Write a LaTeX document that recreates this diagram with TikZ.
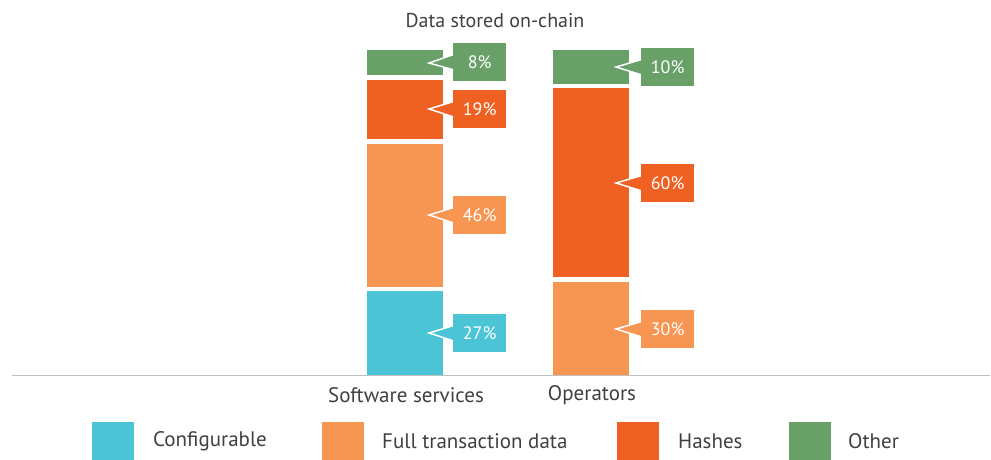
\documentclass[tikz,border=0pt]{standalone}
\usepackage{fontspec}
\setmainfont{PT Sans}
\definecolor{cyanc}{HTML}{4BC4D5}
\definecolor{orangec}{HTML}{F79552}
\definecolor{redc}{HTML}{EF6023}
\definecolor{greenc}{HTML}{68A068}
\definecolor{txt}{HTML}{404040}
\definecolor{axisc}{HTML}{BFBFBF}
\tikzset{
  lbl/.style={rectangle, inner sep=0pt, minimum width=53pt, minimum height=38pt, text=white, font=\fontsize{18}{18}\selectfont},
  cat/.style={text=txt, font=\fontsize{21}{21}\selectfont, inner sep=0pt},
  legtxt/.style={text=txt, font=\fontsize{21}{21}\selectfont, inner sep=0pt, anchor=west},
  legsq/.style={rectangle, inner sep=0pt, minimum width=42pt, minimum height=38pt, anchor=north west},
}
% \mycallout{name}{colour}{tip x}{tip y}{box left x}{box top y}{text}
\newcommand{\mycallout}[7]{%
  \node[lbl, fill=#2, anchor=north west] (#1) at (#5,#6) {#7};
  \coordinate (#1tip) at (#3,#4);
  \fill[#2] (#1tip) -- ([yshift=7.5pt]#1.west) -- ([yshift=-7.5pt]#1.west) -- cycle;
  \draw[white, line width=1.5pt, line join=miter] ([yshift=7.5pt]#1.west) -- (#1tip) -- ([yshift=-7.5pt]#1.west);
}
\begin{document}
\begin{tikzpicture}[x=1pt,y=-1pt]
\useasboundingbox (0,0) rectangle (991,460);
% title
\node[text=txt, font=\fontsize{20}{20}\selectfont, inner sep=0pt] (title) at (495,21) {Data stored on-chain};
% bars: software services
\fill[greenc]  (367,50)  rectangle (443,75);
\fill[redc]    (367,80)  rectangle (443,139);
\fill[orangec] (367,144) rectangle (443,287);
\fill[cyanc]   (367,291) rectangle (443,375);
% bars: operators
\fill[greenc]  (553,50)  rectangle (629,84);
\fill[redc]    (553,88)  rectangle (629,277);
\fill[orangec] (553,282) rectangle (629,375);
% axis
\coordinate (axl) at (12,375.5);
\coordinate (axr) at (990,375.5);
\draw[axisc, line width=1.5pt] (axl) -- (axr);
% callouts
\mycallout{a1}{greenc}{429}{63}{453}{43}{8\%}
\mycallout{a2}{redc}{429}{109}{453}{90}{19\%}
\mycallout{a3}{orangec}{429}{215}{453}{196}{46\%}
\mycallout{a4}{cyanc}{429}{333}{453}{314}{27\%}
\mycallout{b1}{greenc}{616}{67}{641}{48}{10\%}
\mycallout{b2}{redc}{616}{183}{641}{164}{60\%}
\mycallout{b3}{orangec}{616}{329}{641}{310}{30\%}
% category labels
\node[cat] (c1) at (406,395) {Software services};
\node[cat] (c2) at (592,395) {Operators};
% legend
\node[legsq, fill=cyanc] (l1) at (92,422) {};
\node[legtxt] (t1) at (153,441) {Configurable};
\node[legsq, fill=orangec] (l2) at (322,422) {};
\node[legtxt] (t2) at (382,441) {Full transaction data};
\node[legsq, fill=redc] (l3) at (617,422) {};
\node[legtxt] (t3) at (678,441) {Hashes};
\node[legsq, fill=greenc] (l4) at (789,422) {};
\node[legtxt] (t4) at (848,441) {Other};
\end{tikzpicture}
\end{document}
